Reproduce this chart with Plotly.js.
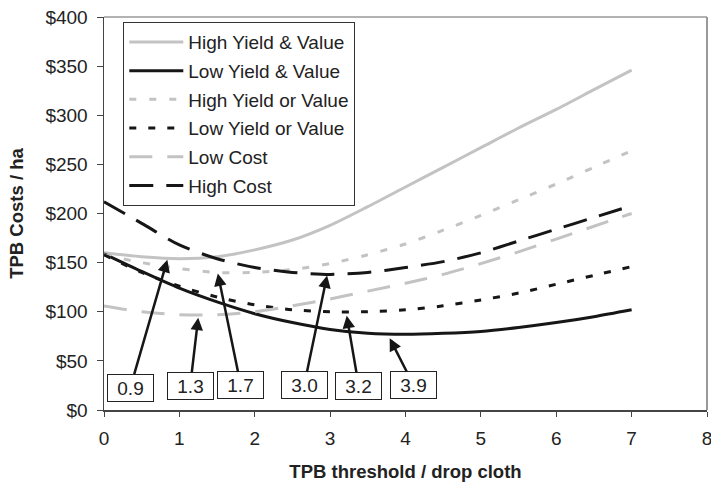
<!DOCTYPE html>
<html>
<head>
<meta charset="utf-8">
<script src="https://cdn.plot.ly/plotly-3.0.1.min.js"></script>
<style>html,body{margin:0;padding:0;background:#fff;}#chart{width:711px;height:482px;}</style>
</head>
<body>
<div id="chart"></div>
<script>
// Data
const thresholds = [0, 0.5, 1, 1.5, 2, 2.5, 3, 3.5, 4, 4.5, 5, 5.5, 6, 6.5, 7];
const highYieldAndValue = [160, 156, 154, 156, 163, 173, 188, 207, 227, 247, 267, 287, 306, 326, 346];
const lowYieldAndValue  = [159, 141, 124, 110, 98, 89, 82, 78, 77, 78, 80, 84, 89, 95, 102];
const highYieldOrValue  = [158, 150, 144, 140, 140, 143, 149, 158, 169, 183, 198, 214, 230, 247, 264];
const lowYieldOrValue   = [158, 140, 126, 115, 107, 102, 100, 100, 102, 106, 112, 119, 128, 137, 146];
const lowCost           = [106, 100, 97, 97, 100, 106, 113, 121, 129, 138, 149, 161, 174, 187, 200];
const highCost          = [212, 190, 168, 154, 145, 140, 138, 140, 145, 151, 160, 172, 184, 196, 208];
const seriesNames = ["High Yield & Value", "Low Yield & Value", "High Yield or Value", "Low Yield or Value", "Low Cost", "High Cost"];
const xTickValues = [0, 1, 2, 3, 4, 5, 6, 7, 8];

// Optimum-threshold call-outs: label, point the arrow targets
const optimumLabels = ["0.9", "1.3", "1.7", "3.0", "3.2", "3.9"];
const optimumX = [0.84, 1.25, 1.51, 2.96, 3.22, 3.79];
const optimumY = [153, 94, 139, 137, 96, 73];

const FONT = "Liberation Sans, Arial, sans-serif";
const GRAY = "#c3c3c3", BLACK = "#161616";
const styles = [
  {color: GRAY, dash: "solid"},
  {color: BLACK, dash: "solid"},
  {color: GRAY, dash: "7px,13px"},
  {color: BLACK, dash: "7px,12px"},
  {color: GRAY, dash: "23px,15px"},
  {color: BLACK, dash: "24px,13px"}
];
const allSeries = [highYieldAndValue, lowYieldAndValue, highYieldOrValue, lowYieldOrValue, lowCost, highCost];

const traces = allSeries.map((vals, i) => ({
  type: "scatter", mode: "lines",
  x: thresholds, y: vals, name: seriesNames[i],
  legendgroup: "g" + i,
  line: {color: styles[i].color, dash: styles[i].dash, width: 3, shape: "spline", smoothing: 0.8}
}));

// tail offsets of the call-out boxes (pixels, relative to arrow tip)
const tailOffsets = [[-37, 128], [-8, 68], [23, 112], [-23, 110], [12, 70], [24, 47]];
const annotations = optimumLabels.map((t, i) => ({
  x: optimumX[i], y: optimumY[i], xref: "x", yref: "y",
  text: t, showarrow: true,
  ax: tailOffsets[i][0], ay: tailOffsets[i][1],
  arrowhead: 2, arrowsize: 1, arrowwidth: 2.5, arrowcolor: BLACK,
  bordercolor: "#222", borderwidth: 1, borderpad: 0, bgcolor: "#fff",
  width: 45, height: 26,
  font: {size: 19, color: "#222", family: FONT}
}));

const layout = {
  width: 711, height: 482,
  margin: {l: 104, r: 4, t: 17, b: 72},
  paper_bgcolor: "#fff", plot_bgcolor: "#fff",
  font: {family: FONT, size: 19, color: "#222"},
  showlegend: true,
  legend: {
    x: 0.032, y: 0.987, xanchor: "left", yanchor: "top",
    bordercolor: "#333", borderwidth: 1, bgcolor: "#fff",
    font: {size: 19, color: "#222"},
    tracegroupgap: 1, itemwidth: 54
  },
  xaxis: {
    range: [0, 8], tickmode: "array", tickvals: xTickValues, ticktext: xTickValues.map(String),
    showline: true, linecolor: "#444", linewidth: 1.5,
    ticks: "outside", ticklen: 5, tickcolor: "#444", tickwidth: 1,
    ticklabelstandoff: 6, ticklabeloverflow: "allow",
    showgrid: false, zeroline: false,
    tickfont: {size: 19, color: "#222"},
    title: {text: "<b>TPB threshold / drop cloth</b>", font: {size: 18.5, color: "#222"}, standoff: 17}
  },
  yaxis: {
    range: [0, 400], dtick: 50, tick0: 0, tickprefix: "$",
    showline: true, linecolor: "#444", linewidth: 1.5,
    ticks: "outside", ticklen: 6, tickcolor: "#444", tickwidth: 1,
    ticklabelstandoff: 5,
    showgrid: false, zeroline: false,
    tickfont: {size: 19, color: "#222"},
    title: {text: "<b>TPB Costs / ha</b>", font: {size: 18.5, color: "#222"}, standoff: 17}
  },
  shapes: [
    {type: "line", xref: "paper", yref: "paper", x0: 0, x1: 1, y0: 1, y1: 1, line: {color: "#999", width: 1.5}},
    {type: "line", xref: "paper", yref: "paper", x0: 1, x1: 1, y0: 0, y1: 1, line: {color: "#999", width: 2}}
  ],
  annotations: annotations
};

Plotly.newPlot("chart", traces, layout, {displayModeBar: false, staticPlot: true});
</script>
</body>
</html>
